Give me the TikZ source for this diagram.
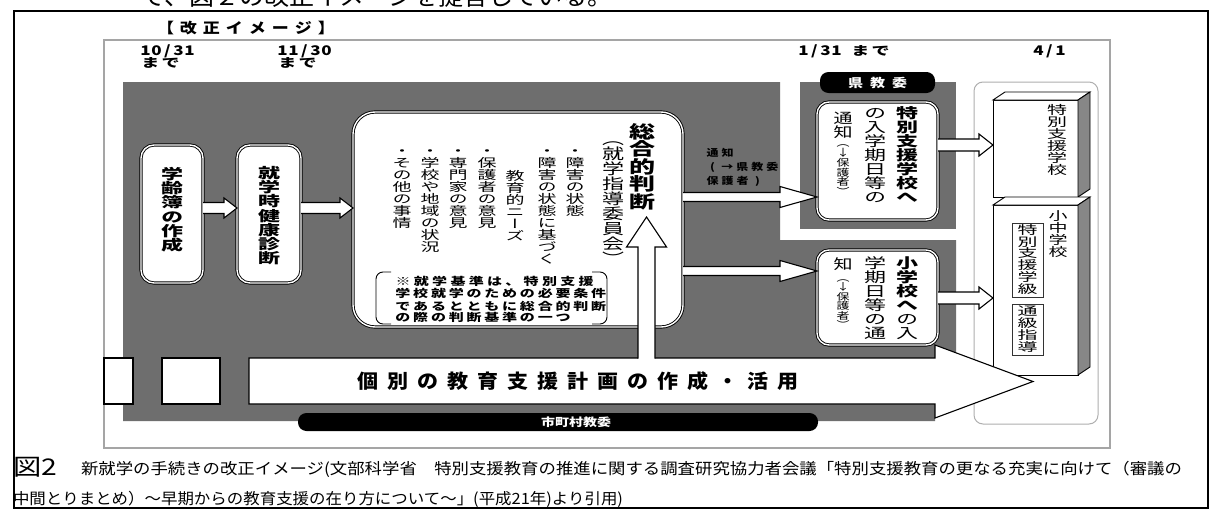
\documentclass[tikz,border=0pt]{standalone}
\usepackage{fontspec}
\usetikzlibrary{calc}
\newfontfamily\jp{Noto Sans CJK JP}
\newfontfamily\jpv{Noto Sans CJK JP}[RawFeature=+vert]
\definecolor{bg}{RGB}{110,110,110}
\definecolor{face}{RGB}{135,135,135}
\definecolor{frameg}{RGB}{165,165,165}
\definecolor{panelg}{RGB}{175,175,175}

\ExplSyntaxOn
\box_new:N \l_my_box
% horizontal: #1 font size (glyph width), #2 pitch, #3 y-scale, #4 text
\NewDocumentCommand\HS{mmmm}{
  \hbox_set:Nn \l_my_box { \fontsize{#1}{#1}\selectfont
     \tl_map_inline:nn {#4} { \hbox_to_wd:nn {#2pt} { \hss ##1 \hss } } }
  \box_scale:Nnn \l_my_box {1} {#3}
  \box_use:N \l_my_box
}
% vertical: #1 font size (glyph width), #2 vertical pitch, #3 text
\NewDocumentCommand\VS{mmm}{
  \vbox_set:Nn \l_my_box { \fontsize{#1}{#1}\selectfont
     \baselineskip=1em \lineskiplimit=-\maxdimen \lineskip=0pt
     \tl_map_inline:nn {#3} { \hbox_to_wd:nn {1em} { \hss \rule[-0.12em]{0pt}{1em} ##1 \hss } } }
  \box_scale:Nnn \l_my_box {1} { \fp_eval:n {#2/#1} }
  \box_use:N \l_my_box
}
% fit to width #1 (pt number)
\NewDocumentCommand\FW{mm}{
  \hbox_set:Nn \l_my_box {#2}
  \box_scale:Nnn \l_my_box { \fp_eval:n { #1 / \dim_to_fp:n { \box_wd:N \l_my_box } } } {1}
  \box_use:N \l_my_box
}
\ExplSyntaxOff

\tikzset{
  dbox/.style={draw=black, line width=0.9pt, double=white, double distance=1.4pt, fill=white, rounded corners=#1},
  barrow/.style={draw=black, line width=1.1pt, fill=white, line join=miter},
  pill/.style={fill=black, rounded corners=8.5pt, text=white},
  sub/.style={draw=black!80, line width=0.7pt, fill=white},
  blockface/.style={draw=black, line width=0.9pt, fill=white},
}
\newcommand\harr[6]{%
  \draw[barrow] let \p1=(#1.east), \p2=(#2.west) in
   (\x1,#3-#4) -- (\x2-#6,#3-#4) -- (\x2-#6,#3-#5) -- (\x2,#3) -- (\x2-#6,#3+#5) -- (\x2-#6,#3+#4) -- (\x1,#3+#4);}

\begin{document}
\begin{tikzpicture}[x=1pt,y=-1pt, every node/.style={inner sep=0pt, outer sep=0pt}]
\useasboundingbox (0,0) rectangle (1212,511);
\fill[white] (0,0) rectangle (1212,511);

% cropped text line at the very top
\begin{scope}
\clip (0,0) rectangle (1212,9);
\node[anchor=base west] (toptxt) at (140,5.5) {\jp\fontsize{24}{24}\selectfont\FW{473}{で、図２の改正イメージを提言している。}};
\end{scope}

% outer frame
\draw[line width=2.2pt] (14,11) rectangle (1208,508);
\node (title) at (246,28.5) {\jp\bfseries\HS{17}{23}{0.85}{【改正イメージ】}};
% inner frame
\draw[frameg, line width=1.5pt] (104,40) rectangle (1110,448);

% dates
\node[anchor=west] (d1a) at (140,51) {\jp\bfseries\HS{17}{11}{0.78}{10/31}};
\node[anchor=west] (d1b) at (140,63) {\jp\bfseries\HS{18}{20.5}{0.68}{まで}};
\node[anchor=west] (d2a) at (277,51) {\jp\bfseries\HS{17}{11}{0.78}{11/30}};
\node[anchor=west] (d2b) at (277,63) {\jp\bfseries\HS{18}{20.5}{0.68}{まで}};
\node[anchor=west] (d3) at (798,51) {\jp\bfseries\HS{17}{11}{0.78}{1/31}\hspace{8pt}\HS{18}{20.5}{0.68}{まで}};
\node[anchor=west] (d4) at (1033,51) {\jp\bfseries\HS{17}{11}{0.78}{4/1}};

% grey areas
\fill[bg] (123,82) -- (780,82) -- (780,240) -- (956,240) -- (956,358) -- (935,358) -- (935,421) -- (123,421) -- cycle;
\fill[bg] (800,82) rectangle (956,229);

% right panel
\node[draw=panelg, line width=1pt, fill=white, rounded corners=9pt, minimum width=124, minimum height=342, anchor=north west] (panel) at (974,82) {};

% 県教委
\node[pill, minimum width=115, minimum height=21] (ken) at (877.5,82.5) {\jp\bfseries\HS{15}{22}{0.8}{県教委}};

% left boxes
\node[dbox=13pt, minimum width=62, minimum height=138] (b1) at (172,214) {};
\node[anchor=north] (b1t) at (172,167) {\jpv\bfseries\VS{22}{14.2}{学齢簿の作成}};
\node[dbox=13pt, minimum width=64, minimum height=138] (b2) at (269,214) {};
\node[anchor=north] (b2t) at (269,166) {\jpv\bfseries\VS{22}{14.2}{就学時健康診断}};

% big judgement box
\node[dbox=22pt, minimum width=330, minimum height=215] (judge) at (518,219.5) {};
\node[anchor=north] (tot) at (642,123) {\jpv\bfseries\VS{26}{17.5}{総合的判断}};
\node[anchor=north] (iin) at (613,131) {\jpv\VS{22}{15}{（就学指導委員会）}};
\node[anchor=north] (l1) at (575,145) {\jpv\VS{19}{12}{・障害の状態}};
\node[anchor=north] (l2) at (547,145) {\jpv\VS{19}{12}{・障害の状態に基づく}};
\node[anchor=north] (l3) at (515,170) {\jpv\VS{19}{12}{教育的ニーズ}};
\node[anchor=north] (l4) at (487,145) {\jpv\VS{19}{12}{・保護者の意見}};
\node[anchor=north] (l5) at (458,145) {\jpv\VS{19}{12}{・専門家の意見}};
\node[anchor=north] (l6) at (430,145) {\jpv\VS{19}{12}{・学校や地域の状況}};
\node[anchor=north] (l7) at (402,145) {\jpv\VS{19}{12}{・その他の事情}};
% note in brackets
\draw[line width=0.9pt, rounded corners=7pt] (391,272) -- (376,272) -- (376,324) -- (391,324);
\draw[line width=0.9pt, rounded corners=7pt] (592,272) -- (607,272) -- (607,324) -- (592,324);
\node[anchor=base west] (n1) at (394,285) {\jp\bfseries\HS{15}{18.3}{0.72}{※就学基準は、特別支援}};
\node[anchor=base west] (n2) at (394,297.5) {\jp\bfseries\HS{15}{17.8}{0.72}{学校就学のための必要条件}};
\node[anchor=base west] (n3) at (394,310) {\jp\bfseries\HS{15}{17.8}{0.72}{であるとともに総合的判断}};
\node[anchor=base west] (n4) at (394,321.5) {\jp\bfseries\HS{15}{17.8}{0.72}{の際の判断基準の一つ}};

% notice boxes
\node[dbox=12pt, minimum width=121, minimum height=118, anchor=north west] (tk) at (817,102) {};
\node[anchor=north] (tk1) at (907,106) {\jpv\bfseries\VS{22}{14}{特別支援学校へ}};
\node[anchor=north] (tk2) at (875,106) {\jpv\VS{22}{14}{の入学期日等の}};
\node[anchor=north] (tk3) at (843,111) {\jpv\VS{19}{14}{通知}};
\node[anchor=north] (tk4) at (843,138) {\jpv\VS{13}{9.8}{（↓保護者）}};

\node[dbox=12pt, minimum width=121, minimum height=95, anchor=north west] (sh) at (817,250) {};
\node[anchor=north] (sh1) at (907,256) {\jpv\VS{22}{14}{{\bfseries 小}{\bfseries 学}{\bfseries 校}{\bfseries へ}の入}};
\node[anchor=north] (sh2) at (875,256) {\jpv\VS{22}{14}{学期日等の通}};
\node[anchor=north] (sh3) at (843,257) {\jpv\VS{19}{14}{知}};
\node[anchor=north] (sh4) at (843,273) {\jpv\VS{13}{9.5}{（↓保護者）}};

% school blocks
\node[blockface, minimum width=85, minimum height=97, anchor=north west] (tok) at (993,100) {};
\filldraw[blockface] (tok.north west) -- ++(12,-8) -- ++(85,0) -- (tok.north east) -- cycle;
\filldraw[blockface, fill=face] (tok.north east) -- ++(12,-8) -- ++(0,97) -- (tok.south east) -- cycle;
\node[anchor=north] (tokt) at (1057,104) {\jpv\VS{20}{12}{特別支援学校}};

\node[blockface, minimum width=85, minimum height=170, anchor=north west] (sho) at (993,205) {};
\filldraw[blockface] (sho.north west) -- ++(12,-8) -- ++(85,0) -- (sho.north east) -- cycle;
\filldraw[blockface, fill=face] (sho.north east) -- ++(12,-8) -- ++(0,170) -- (sho.south east) -- cycle;
\node[anchor=north] (shot) at (1058,210) {\jpv\VS{19}{12}{小中学校}};
\node[sub, minimum width=31, minimum height=74, anchor=north west] (kyu) at (1012,223) {};
\node[anchor=north] (kyut) at (1027.5,224) {\jpv\VS{20}{11.8}{特別支援学級}};
\node[sub, minimum width=31, minimum height=51, anchor=north west] (tsu) at (1012,304) {};
\node[anchor=north] (tsut) at (1027.5,305.5) {\jpv\VS{20}{11.8}{通級指導}};

% block arrows
\harr{b1}{b2}{208}{5.5}{10}{13}
\harr{b2}{judge}{208}{5.5}{10}{13}
\harr{judge}{tk}{197}{4.5}{10.5}{37}
\harr{judge}{sh}{271}{4.5}{10.5}{37}
\harr{tk}{tok}{145}{6}{11}{14}
\harr{sh}{sho}{298}{6}{11}{14}

\node[anchor=base west] (tz1) at (705,156) {\jp\bfseries\HS{12}{15}{0.8}{通知}};
\node[anchor=base west] (tz2) at (705,170) {\jp\bfseries\HS{12}{15}{0.8}{(→県教委}};
\node[anchor=base west] (tz3) at (705,184) {\jp\bfseries\HS{12}{15}{0.8}{保護者)}};

% big arrow
\draw[barrow] (249,358) -- (935,358) -- (935,345) -- (1033,381.5) -- (935,418) -- (935,404) -- (249,404) -- cycle;
\node (plan) at (578,381) {\jp\bfseries\HS{21}{30}{0.92}{個別の教育支援計画の作成・活用}};

% up arrow
\fill[white] (638,360) -- (638,247) -- (626.5,247) -- (646.5,217) -- (666.5,247) -- (655,247) -- (655,360) -- cycle;
\draw[line width=1.1pt, line join=miter] (638,358.6) -- (638,247) -- (626.5,247) -- (646.5,217) -- (666.5,247) -- (655,247) -- (655,358.6);

% small white boxes
\node[draw, line width=1.2pt, fill=white, minimum width=29, minimum height=46, anchor=north west] (wa) at (104,358) {};
\node[draw, line width=1.2pt, fill=white, minimum width=58, minimum height=46, anchor=north west] (wb) at (162,358) {};

% 市町村教委
\node[pill, minimum width=520, minimum height=18, anchor=north west] (city) at (298,413) {};
\node (cityt) at (576,422) {\jp\bfseries\color{white}\HS{14}{14}{0.8}{市町村教委}};

% caption
\node[anchor=base west] (fig) at (13,475) {\jp\fontsize{23}{23}\selectfont\FW{44}{図2}};
\node[anchor=base west] (cap1) at (81,474) {\jp\fontsize{15.5}{15.5}\selectfont\FW{1101}{新就学の手続きの改正イメージ(文部科学省　特別支援教育の推進に関する調査研究協力者会議「特別支援教育の更なる充実に向けて（審議の}};
\node[anchor=base west] (cap2) at (13,504) {\jp\fontsize{15.5}{15.5}\selectfont\FW{610}{中間とりまとめ）～早期からの教育支援の在り方について～」(平成21年)より引用)}};
\end{tikzpicture}
\end{document}
